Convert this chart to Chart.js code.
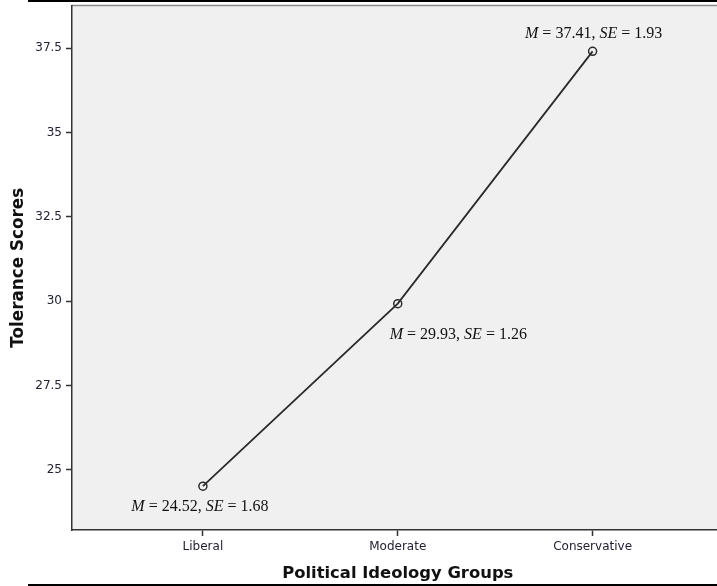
<!DOCTYPE html>
<html>
<head>
<meta charset="utf-8">
<script src="https://cdn.jsdelivr.net/npm/chart.js@4.4.1/dist/chart.umd.min.js"></script>
<style>
  html, body { margin: 0; padding: 0; background: #ffffff; overflow: hidden; }
  #wrap { width: 729px; height: 586px; }
</style>
</head>
<body>
<div id="wrap"><canvas id="c" width="729" height="586"></canvas></div>
<script>
// ---- data ----
const categories = ["Liberal", "Moderate", "Conservative"];
const means = [24.52, 29.93, 37.41];
const stdErrors = [1.68, 1.26, 1.93];
const yTickValues = [25, 27.5, 30, 32.5, 35, 37.5];
const yTickLabels = ["25", "27.5", "30", "32.5", "35", "37.5"];
const xTitle = "Political Ideology Groups";
const yTitle = "Tolerance Scores";

const points = means.map((m, i) => ({ x: i, y: m }));

// label placement relative to each point (dx, dy in px, alignment)
const labelPlacement = [
  { dx: -3, dy: 21, align: "center" },
  { dx: -8, dy: 31, align: "left" },
  { dx: 1, dy: -18, align: "center" }
];

const frame = {
  id: "frame",
  beforeDraw(chart) {
    const { ctx, chartArea: a } = chart;
    ctx.save();
    ctx.fillStyle = "#f0f0f0";
    ctx.fillRect(a.left, a.top, a.right - a.left + 20, a.bottom - a.top);
    ctx.strokeStyle = "#8a8a8a";
    ctx.lineWidth = 1.5;
    ctx.beginPath();
    ctx.moveTo(a.left, a.top);
    ctx.lineTo(a.right + 20, a.top);
    ctx.stroke();
    // page rules top and bottom
    ctx.fillStyle = "#000000";
    ctx.fillRect(28, 0, chart.width - 28, 2);
    ctx.fillRect(28, chart.height - 2, chart.width - 28, 2);
    ctx.restore();
  },
  afterDatasetsDraw(chart) {
    const { ctx } = chart;
    const xs = chart.scales.x, ys = chart.scales.y;
    ctx.save();
    ctx.fillStyle = "#111111";
    ctx.textBaseline = "middle";
    means.forEach((m, i) => {
      const px = xs.getPixelForValue(i);
      const py = ys.getPixelForValue(m);
      const p = labelPlacement[i];
      const parts = [
        { t: "M", it: true }, { t: " = " + m.toFixed(2) + ", ", it: false },
        { t: "SE", it: true }, { t: " = " + stdErrors[i].toFixed(2), it: false }
      ];
      const fontFor = it => (it ? "italic " : "") + "16px 'Liberation Serif', 'Times New Roman', serif";
      let total = 0;
      parts.forEach(pt => { ctx.font = fontFor(pt.it); pt.w = ctx.measureText(pt.t).width; total += pt.w; });
      let x = px + p.dx;
      if (p.align === "center") x -= total / 2;
      const y = py + p.dy;
      ctx.textAlign = "left";
      parts.forEach(pt => { ctx.font = fontFor(pt.it); ctx.fillText(pt.t, x, y); x += pt.w; });
    });
    ctx.restore();
  }
};

new Chart(document.getElementById("c"), {
  type: "line",
  data: {
    datasets: [{
      data: points,
      borderColor: "#2b2b2b",
      borderWidth: 1.8,
      pointRadius: 4,
      pointBorderWidth: 1.5,
      pointBorderColor: "#2b2b2b",
      pointBackgroundColor: "rgba(0,0,0,0)",
      tension: 0,
      fill: false
    }]
  },
  options: {
    responsive: false,
    animation: false,
    layout: { padding: { top: 5, left: 0, right: 0, bottom: 0 } },
    plugins: { legend: { display: false }, tooltip: { enabled: false } },
    scales: {
      x: {
        type: "linear",
        min: -0.6718,
        max: 2.6718,
        afterBuildTicks: s => { s.ticks = categories.map((c, i) => ({ value: i })); },
        afterFit: s => { s.height = 56; s.paddingLeft = 0; s.paddingRight = 0; },
        ticks: {
          callback: (v) => categories[v],
          color: "#222236",
          font: { family: "'DejaVu Sans', sans-serif", size: 12 },
          padding: 4,
          maxRotation: 0
        },
        grid: { drawOnChartArea: false, drawTicks: true, tickLength: 6, color: "#333333", tickWidth: 1.5 },
        border: { display: true, color: "#333333", width: 1.5 },
        title: {
          display: true, text: xTitle, color: "#111111",
          font: { family: "'DejaVu Sans', sans-serif", size: 16.4, weight: "bold" },
          padding: { top: 0, bottom: 2 }
        }
      },
      y: {
        type: "linear",
        min: 23.22,
        max: 38.77,
        afterBuildTicks: s => { s.ticks = yTickValues.map(v => ({ value: v })); },
        afterFit: s => { s.width = 72; s.paddingTop = 0; s.paddingBottom = 0; },
        ticks: {
          callback: (v) => yTickLabels[yTickValues.indexOf(v)],
          color: "#222236",
          font: { family: "'DejaVu Sans', sans-serif", size: 12 },
          padding: 4
        },
        grid: { drawOnChartArea: false, drawTicks: true, tickLength: 6, color: "#333333", tickWidth: 1.5 },
        border: { display: true, color: "#333333", width: 1.5 },
        title: {
          display: true, text: yTitle, color: "#111111",
          font: { family: "'DejaVu Sans', sans-serif", size: 16.8, weight: "bold" },
          padding: { top: 9, bottom: 0 }
        }
      }
    }
  },
  plugins: [frame]
});
</script>
</body>
</html>
